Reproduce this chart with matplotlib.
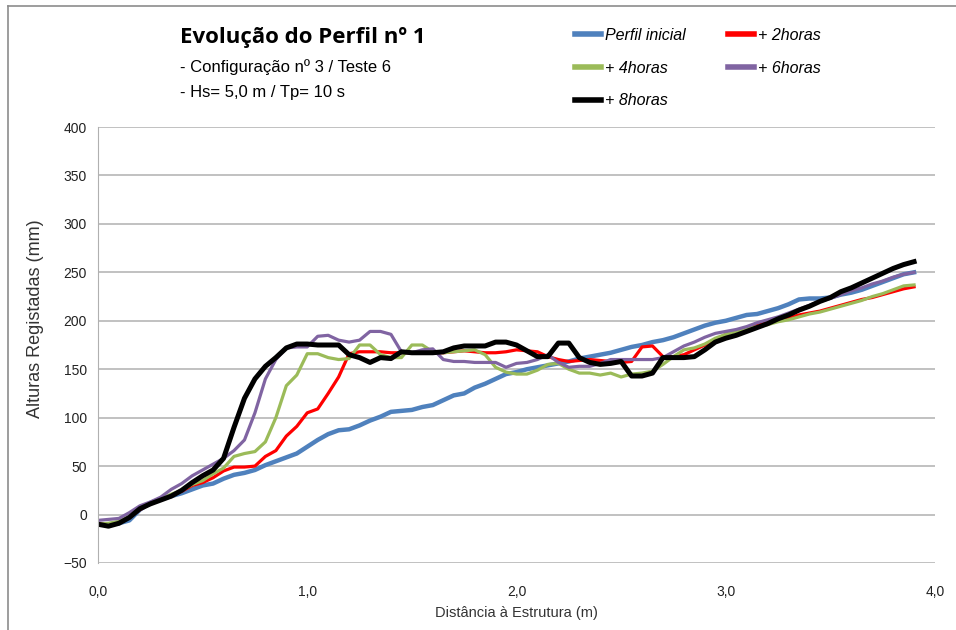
import matplotlib.pyplot as plt
from matplotlib.lines import Line2D
from matplotlib.ticker import FuncFormatter, MultipleLocator

plt.rcParams["font.family"] = ["Liberation Sans", "DejaVu Sans"]

# distance to structure (m), one reading every 0.05 m
dist = [round(i * 0.05, 2) for i in range(79)]

perfil_inicial = [
    -10, -10, -9, -6, 5, 12, 16, 19, 22, 26, 30, 32, 37, 41, 43, 46, 51, 55, 59, 63,
    70, 77, 83, 87, 88, 92, 97, 101, 106, 107, 108, 111, 113, 118, 123, 125, 131, 135, 140, 145,
    147, 150, 152, 154, 156, 158, 161, 163, 165, 167, 170, 173, 175, 178, 180, 183, 187, 191, 195, 198,
    200, 203, 206, 207, 210, 213, 217, 222, 223, 223, 224, 227, 229, 232, 236, 240, 244, 248, 250,
]
horas_2 = [
    -9, -11, -9, -3, 5, 11, 15, 20, 24, 30, 33, 38, 45, 49, 49, 50, 60, 66, 81, 91,
    105, 109, 125, 142, 166, 168, 168, 168, 167, 167, 167, 167, 167, 167, 168, 169, 168, 167, 167, 168,
    170, 169, 168, 163, 160, 158, 159, 160, 159, 158, 157, 158, 173, 174, 163, 163, 165, 170, 175, 180,
    186, 190, 193, 196, 198, 201, 203, 206, 208, 210, 213, 216, 219, 222, 224, 227, 230, 233, 235,
]
horas_4 = [
    -10, -9, -7, -2, 6, 11, 16, 21, 25, 31, 35, 42, 48, 60, 63, 65, 75, 100, 133, 144,
    166, 166, 162, 160, 161, 175, 175, 165, 162, 162, 175, 175, 168, 167, 168, 169, 170, 165, 152, 147,
    145, 145, 149, 155, 156, 150, 146, 146, 144, 146, 142, 145, 146, 148, 155, 163, 170, 172, 176, 182,
    186, 189, 192, 194, 196, 199, 201, 204, 207, 209, 212, 215, 218, 221, 225, 228, 232, 236, 237,
]
horas_6 = [
    -6, -5, -4, 2, 9, 13, 18, 26, 32, 40, 46, 52, 58, 66, 77, 105, 140, 160, 172, 173,
    173, 184, 185, 180, 178, 180, 189, 189, 186, 168, 167, 170, 171, 160, 158, 158, 157, 157, 157, 152,
    156, 157, 160, 165, 157, 152, 153, 153, 156, 160, 160, 160, 160, 160, 162, 168, 174, 178, 183, 187,
    189, 191, 194, 198, 201, 204, 208, 212, 216, 220, 223, 227, 231, 234, 238, 241, 245, 248, 250,
]
horas_8 = [
    -10, -12, -9, -3, 6, 11, 15, 19, 25, 33, 40, 46, 58, 90, 120, 140, 153, 162, 172, 176,
    176, 175, 175, 175, 165, 162, 157, 162, 161, 168, 167, 167, 167, 168, 172, 174, 174, 174, 178, 178,
    175, 169, 163, 163, 177, 177, 162, 157, 155, 156, 158, 143, 143, 146, 162, 162, 162, 163, 170, 178,
    182, 185, 189, 193, 197, 202, 206, 211, 215, 220, 224, 230, 234, 239, 244, 249, 254, 258, 261,
]

series = [
    ("Perfil inicial", perfil_inicial, "#4f81bd", 3.2),
    ("+ 2horas", horas_2, "#ff0000", 2.3),
    ("+ 4horas", horas_4, "#9bbb59", 2.3),
    ("+ 6horas", horas_6, "#8064a2", 2.3),
    ("+ 8horas", horas_8, "#000000", 3.6),
]

fig = plt.figure(figsize=(9.56, 6.3), dpi=100)
ax = fig.add_axes([98 / 956, 1 - 563 / 630, 837 / 956, 436 / 630])

# outer chart frame: only its left and top edges are inside the picture
frame_x, frame_y = 8 / 956, 1 - 6 / 630
fig.lines.append(Line2D([frame_x, frame_x], [0, frame_y], transform=fig.transFigure,
                        color="#8c8c8c", linewidth=1.2))
fig.lines.append(Line2D([frame_x, 1], [frame_y, frame_y], transform=fig.transFigure,
                        color="#8c8c8c", linewidth=1.2))

handles = {}
for name, vals, color, lw in series:
    (ln,) = ax.plot(dist, vals, color=color, linewidth=lw, label=name)
    handles[name] = ln

ax.set_xlim(0, 4)
ax.set_ylim(-50, 400)
ax.yaxis.set_major_locator(MultipleLocator(50))
ax.xaxis.set_major_locator(MultipleLocator(1))
ax.xaxis.set_major_formatter(FuncFormatter(lambda v, p: f"{v:.1f}".replace(".", ",")))
ax.grid(axis="y", color="#b0b0b0", linewidth=1.1)
ax.set_axisbelow(True)
for s in ["top", "right", "bottom"]:
    ax.spines[s].set_visible(False)
ax.spines["left"].set_color("#b0b0b0")
ax.tick_params(axis="y", length=0, labelsize=10, colors="#222222", pad=8)
ax.tick_params(axis="x", length=0, labelsize=10, colors="#222222", pad=16)

ax.set_xlabel("Distância à Estrutura (m)", fontsize=10.5, color="#333333", labelpad=5)
ax.set_ylabel("Alturas Registadas (mm)", fontsize=13, color="#333333")
ax.yaxis.set_label_coords(-0.065, 0.56)

fig.text(180 / 956, 1 - 37 / 630, "Evolução do Perfil nº 1", fontsize=16, fontweight="bold",
         va="center", family=["Open Sans", "DejaVu Sans"])
fig.text(180 / 956, 1 - 67 / 630, "- Configuração nº 3 / Teste 6", fontsize=12, va="center")
fig.text(180 / 956, 1 - 92 / 630, "- Hs= 5,0 m / Tp= 10 s", fontsize=12, va="center")

# legend is filled column by column, so order it to read row by row
order = ["Perfil inicial", "+ 4horas", "+ 8horas", "+ 2horas", "+ 6horas"]
leg = fig.legend(handles=[handles[k] for k in order], labels=order, loc="upper left",
                 bbox_to_anchor=(575 / 956, 1 - 28 / 630), borderaxespad=0, borderpad=0,
                 ncol=2, frameon=False, handlelength=1.65, handletextpad=0.25,
                 columnspacing=2.6, labelspacing=1.1,
                 prop={"style": "italic", "size": 11.5})
for ln in leg.get_lines():
    ln.set_linewidth(4)

fig.savefig("out.png", dpi=100)
